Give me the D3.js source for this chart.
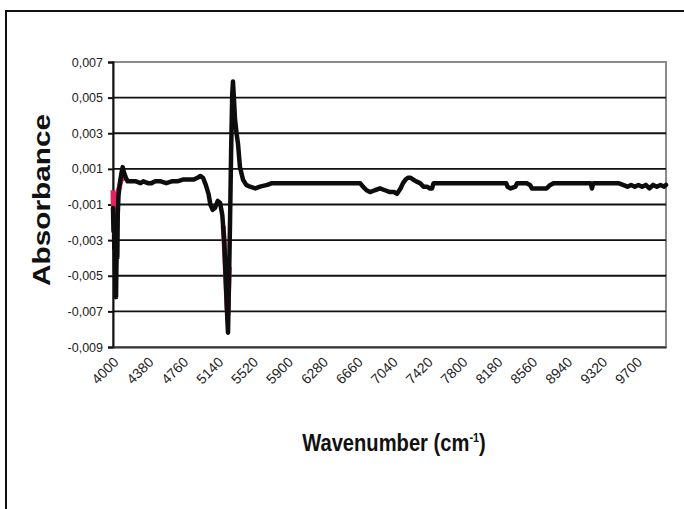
<!DOCTYPE html>
<html><head><meta charset="utf-8">
<script src="https://cdn.jsdelivr.net/npm/d3@7"></script>
<style>body{margin:0;background:#fff}svg{display:block}</style>
</head><body><svg id="c" width="684" height="509"></svg>
<script>
// ---- data ----
const yTicks = [0.007,0.005,0.003,0.001,-0.001,-0.003,-0.005,-0.007,-0.009];
const yTickLabels = ["0,007","0,005","0,003","0,001","-0,001","-0,003","-0,005","-0,007","-0,009"];
const xTicks = [4000,4380,4760,5140,5520,5900,6280,6660,7040,7420,7800,8180,8560,8940,9320,9700];

const blackWavenumber = [4000,4005,4010,4014,4018,4022,4026,4030,4033,4037,4042,4047,4052,4060,4075,4090,4105,4120,4140,4160,4200,4250,4300,4330,4380,4420,4460,4520,4580,4640,4700,4760,4820,4880,4920,4950,4980,5010,5040,5060,5085,5110,5140,5165,5190,5210,5230,5245,5252,5262,5274,5286,5298,5306,5316,5328,5345,5361,5382,5415,5450,5491,5550,5600,5680,5730,5818,5900,6000,6100,6200,6300,6400,6500,6600,6690,6721,6760,6798,6850,6907,6960,7016,7060,7092,7130,7157,7185,7211,7240,7266,7300,7342,7380,7418,7450,7473,7490,7600,7700,7800,7900,8000,8100,8200,8280,8295,8330,8380,8400,8500,8540,8560,8640,8720,8760,8800,8900,9000,9100,9200,9214,9228,9300,9400,9500,9552,9600,9640,9680,9720,9760,9800,9840,9880,9920,9960,10000,10020];
const blackAbsorbance = [-0.0012,-0.0025,-0.0018,-0.0035,-0.0030,-0.0048,-0.0040,-0.0055,-0.0062,-0.0045,-0.0035,-0.0040,-0.0015,-0.0005,0.0002,0.0007,0.0011,0.0008,0.0005,0.0003,0.0003,0.0003,0.0002,0.0003,0.0002,0.0002,0.0003,0.0003,0.0002,0.0003,0.0003,0.0004,0.0004,0.0004,0.0005,0.0006,0.0005,0.0001,-0.0004,-0.0010,-0.0013,-0.0012,-0.0008,-0.0009,-0.0016,-0.0030,-0.0055,-0.0075,-0.0082,-0.0055,-0.0020,0.0020,0.0052,0.0059,0.0050,0.0038,0.0030,0.0024,0.0011,0.0004,0.0001,0.0000,-0.0001,0.0000,0.0001,0.0002,0.0002,0.0002,0.0002,0.0002,0.0002,0.0002,0.0002,0.0002,0.0002,0.0002,0.0000,-0.0002,-0.0003,-0.0002,-0.0001,-0.0002,-0.0003,-0.0003,-0.0004,-0.0001,0.0002,0.0004,0.0005,0.0005,0.0004,0.0003,0.0002,0.0000,0.0000,-0.0001,-0.0001,0.0002,0.0002,0.0002,0.0002,0.0002,0.0002,0.0002,0.0002,0.0002,0.0000,-0.0001,0.0000,0.0002,0.0002,0.0001,-0.0001,-0.0001,-0.0001,0.0001,0.0002,0.0002,0.0002,0.0002,0.0002,-0.0001,0.0002,0.0002,0.0002,0.0002,0.0001,0.0000,0.0001,0.0000,0.0001,0.0000,0.0001,-0.0001,0.0001,0.0000,0.0001,0.0000,0.0001];

// second (pink) trace, mostly hidden under the black one; null = gap
const redWavenumber = [4000,4003,4006,4010,4015,4022,4032,4045,4060,4075,4090,4105,4120,4140,4160,5200,5215,5228,5238,5244,5250,5256,5266];
const redAbsorbance = [-0.0002,-0.0010,-0.0006,-0.0013,-0.0018,-0.0020,-0.0014,-0.0006,-0.0002,0.0001,0.0004,0.0006,0.0005,0.0004,null,-0.0022,-0.0036,-0.0052,-0.0064,-0.0070,-0.0072,-0.0062,-0.0045];

// ---- layout ----
const svg = d3.select("#c");
const L = 113, R = 666, T = 62, B = 347;
const x = d3.scaleLinear().domain([4000, 10020]).range([L, R]);
const y = d3.scaleLinear().domain([-0.009, 0.007]).range([B, T]);
const FONT = "Arial, 'Liberation Sans', sans-serif";

// outer frame
svg.append("rect").attr("x",6).attr("y",11).attr("width",720).attr("height",540)
  .attr("fill","#fff").attr("stroke","#111").attr("stroke-width",2);

// plot border (gray)
svg.append("rect").attr("x",L).attr("y",T).attr("width",R-L).attr("height",B-T)
  .attr("fill","none").attr("stroke","#8a8a8a").attr("stroke-width",2);

// gridlines
svg.append("g").selectAll("line").data(yTicks.filter(v=>v<0.0069 && v>-0.0089)).join("line")
  .attr("x1",L).attr("x2",R).attr("y1",d=>y(d)).attr("y2",d=>y(d))
  .attr("stroke","#111").attr("stroke-width",1.8);

// y axis
const yAxis = d3.axisLeft(y).tickValues(yTicks).tickSize(5).tickPadding(5)
  .tickFormat((d,i)=>yTickLabels[i]);
const gy = svg.append("g").attr("transform",`translate(${L},0)`).call(yAxis);
gy.select(".domain").attr("stroke","#111").attr("stroke-width",2);
gy.selectAll(".tick line").attr("stroke","#111").attr("stroke-width",2);
gy.selectAll(".tick text").attr("font-family",FONT)
  .attr("font-size",12.5).attr("fill","#222");

// x axis
const xAxis = d3.axisBottom(x).tickValues(xTicks).tickSize(0).tickFormat(d3.format("d"));
const gx = svg.append("g").attr("transform",`translate(0,${B})`).call(xAxis);
gx.select(".domain").attr("stroke","#333").attr("stroke-width",2);
gx.selectAll(".tick text").attr("font-family",FONT)
  .attr("font-size",14).attr("fill","#222")
  .attr("text-anchor","end").attr("dy",0).attr("y",0)
  .attr("transform","translate(6,16) rotate(-45)");

// series
const line = d3.line().defined(d=>d[1]!==null).x(d=>x(d[0])).y(d=>y(d[1]));
const red = redWavenumber.map((w,i)=>[w, redAbsorbance[i]]);
const black = blackWavenumber.map((w,i)=>[w, blackAbsorbance[i]]);
svg.append("path").datum(red).attr("d",line).attr("fill","none")
  .attr("stroke","#e0245e").attr("stroke-width",5).attr("stroke-linejoin","round");
svg.append("path").datum(black).attr("d",line).attr("fill","none")
  .attr("stroke","#0d0d0d").attr("stroke-width",4.5).attr("stroke-linejoin","round").attr("stroke-linecap","round");

// titles
svg.append("text").attr("transform","translate(50,200) rotate(-90)")
  .attr("text-anchor","middle").attr("font-family",FONT)
  .attr("font-weight","bold").attr("font-size",24).attr("fill","#111")
  .attr("textLength",172).attr("lengthAdjust","spacingAndGlyphs").text("Absorbance");
const xt = svg.append("text").attr("transform","translate(394,451) scale(0.84,1)")
  .attr("text-anchor","middle").attr("font-family",FONT)
  .attr("font-weight","bold").attr("font-size",24).attr("fill","#111");
xt.append("tspan").text("Wavenumber (cm");
xt.append("tspan").attr("dy",-9).attr("font-size",13).text("-1");
xt.append("tspan").attr("dy",9).text(")");
</script></body></html>
